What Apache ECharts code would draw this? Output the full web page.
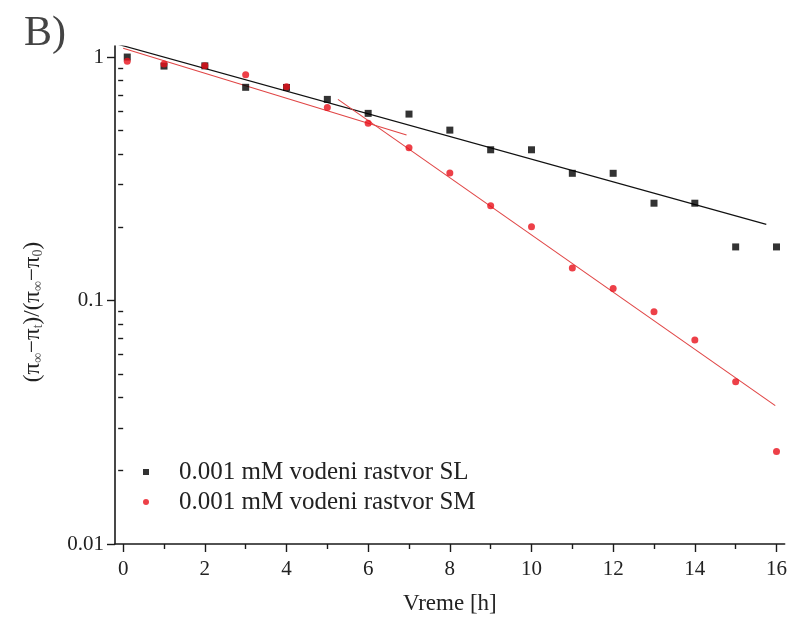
<!DOCTYPE html>
<html>
<head>
<meta charset="utf-8">
<script src="https://cdn.jsdelivr.net/npm/echarts@6/dist/echarts.min.js"></script>
<style>html,body{margin:0;padding:0;background:#fff;}#c{width:790px;height:621px;}</style>
</head>
<body>
<div id="c"></div>
<script>
// Data
var slX = [0.1, 1, 2, 3, 4, 5, 6, 7, 8, 9, 10, 11, 12, 13, 14, 15, 16];
var slY = [1.0, 0.918, 0.92, 0.751, 0.75, 0.670, 0.587, 0.583, 0.501, 0.416, 0.416, 0.333, 0.333, 0.251, 0.251, 0.166, 0.166];
var smX = [0.1, 1, 2, 3, 4, 5, 6, 7, 8, 9, 10, 11, 12, 13, 14, 15, 16];
var smY = [0.96, 0.936, 0.92, 0.846, 0.755, 0.621, 0.534, 0.424, 0.334, 0.245, 0.201, 0.136, 0.112, 0.090, 0.0688, 0.0464, 0.0240];
var slFitX = [-0.12, 15.75];
var slFitY = [1.127, 0.2055];
var smFit1X = [0.0, 6.94];
var smFit1Y = [1.086, 0.478];
var smFit2X = [5.26, 15.97];
var smFit2Y = [0.670, 0.037];
var xMajorTicks = [0, 2, 4, 6, 8, 10, 12, 14, 16];
var xMinorTicks = [1, 3, 5, 7, 9, 11, 13, 15];
var yMajorTicks = [0.01, 0.1, 1];
var yMinorTicks = [0.02, 0.03, 0.04, 0.05, 0.06, 0.07, 0.08, 0.09, 0.2, 0.3, 0.4, 0.5, 0.6, 0.7, 0.8, 0.9];
var nameSL = '0.001 mM vodeni rastvor SL';
var nameSM = '0.001 mM vodeni rastvor SM';

function pairs(xs, ys) { return xs.map(function (x, i) { return [x, ys[i]]; }); }

var FONT = '"Liberation Serif", "Times New Roman", serif';
var TXT = '#222';
var AX = '#1a1a1a';

var chart = echarts.init(document.getElementById('c'), null, {renderer: 'canvas'});
chart.setOption({
  backgroundColor: '#fff',
  animation: false,
  title: {
    text: 'B)', left: 19, top: 8,
    textStyle: {fontFamily: FONT, fontSize: 42, fontWeight: 'normal', color: '#444'}
  },
  grid: {left: 115, right: 4, top: 46, bottom: 77, containLabel: false},
  legend: {
    orient: 'vertical', left: 138, top: 454,
    itemWidth: 6, itemHeight: 6, itemGap: 4,
    data: [{name: nameSL, icon: 'rect'}, {name: nameSM, icon: 'circle'}],
    textStyle: {fontFamily: FONT, fontSize: 25, color: TXT, lineHeight: 26, padding: [0, 0, 0, 25]}
  },
  xAxis: [{
    type: 'value', min: -0.2, max: 16.2,
    name: 'Vreme [h]', nameLocation: 'middle', nameGap: 48,
    nameTextStyle: {fontFamily: FONT, fontSize: 23, color: TXT},
    axisLine: {show: true, onZero: false, lineStyle: {color: AX, width: 1.6}},
    axisTick: {show: true, length: 8, customValues: xMajorTicks, lineStyle: {color: AX, width: 1.4}},
    axisLabel: {show: true, customValues: xMajorTicks, margin: 15, fontFamily: FONT, fontSize: 21, color: TXT},
    splitLine: {show: false}
  }, {
    type: 'value', min: -0.2, max: 16.2, position: 'bottom', offset: 0,
    axisLine: {show: false},
    axisTick: {show: true, length: 5, customValues: xMinorTicks, lineStyle: {color: AX, width: 1.4}},
    axisLabel: {show: false},
    splitLine: {show: false}
  }],
  yAxis: [{
    type: 'log', logBase: 10, min: 0.01, max: 1.11,
    name: '{n|(π}{s|∞}{n|−π}{s|t}{n|)/(π}{s|∞}{n|−π}{s|0}{n|)}{gap| }',
    nameLocation: 'middle', nameGap: 70, nameRotate: 90,
    nameTextStyle: {
      fontFamily: FONT, fontSize: 23, color: TXT,
      rich: {
        n: {fontFamily: FONT, fontSize: 23, color: TXT},
        s: {fontFamily: FONT, fontSize: 14, color: '#555', verticalAlign: 'bottom', padding: [10, 0, 0, 0]},
        gap: {fontSize: 10, width: 34}
      }
    },
    axisLine: {show: true, onZero: false, lineStyle: {color: AX, width: 1.6}},
    axisTick: {show: true, length: 8, customValues: yMajorTicks, lineStyle: {color: AX, width: 1.4}},
    axisLabel: {show: true, customValues: yMajorTicks, margin: 11, fontFamily: FONT, fontSize: 21, color: TXT},
    splitLine: {show: false}
  }, {
    type: 'log', logBase: 10, min: 0.01, max: 1.11, position: 'left', offset: 0,
    axisLine: {show: false},
    axisTick: {show: true, length: 5, customValues: yMinorTicks, lineStyle: {color: AX, width: 1.4}},
    axisLabel: {show: false},
    splitLine: {show: false}
  }],
  series: [{
    name: 'fitSL', type: 'line', data: pairs(slFitX, slFitY), showSymbol: false, symbol: 'none',
    lineStyle: {color: '#111', width: 1.2}, silent: true, z: 2
  }, {
    name: 'fitSM1', type: 'line', data: pairs(smFit1X, smFit1Y), showSymbol: false, symbol: 'none',
    lineStyle: {color: '#e04545', width: 1.1}, silent: true, z: 2
  }, {
    name: 'fitSM2', type: 'line', data: pairs(smFit2X, smFit2Y), showSymbol: false, symbol: 'none',
    lineStyle: {color: '#e04545', width: 1.1}, silent: true, z: 2
  }, {
    name: nameSL, type: 'scatter', data: pairs(slX, slY), symbol: 'rect', symbolSize: 7,
    itemStyle: {color: '#000'}, z: 3
  }, {
    name: nameSM, type: 'scatter', data: pairs(smX, smY), symbol: 'circle', symbolSize: 7,
    itemStyle: {color: '#e8101a'}, z: 4
  }]
});
</script>
</body>
</html>
